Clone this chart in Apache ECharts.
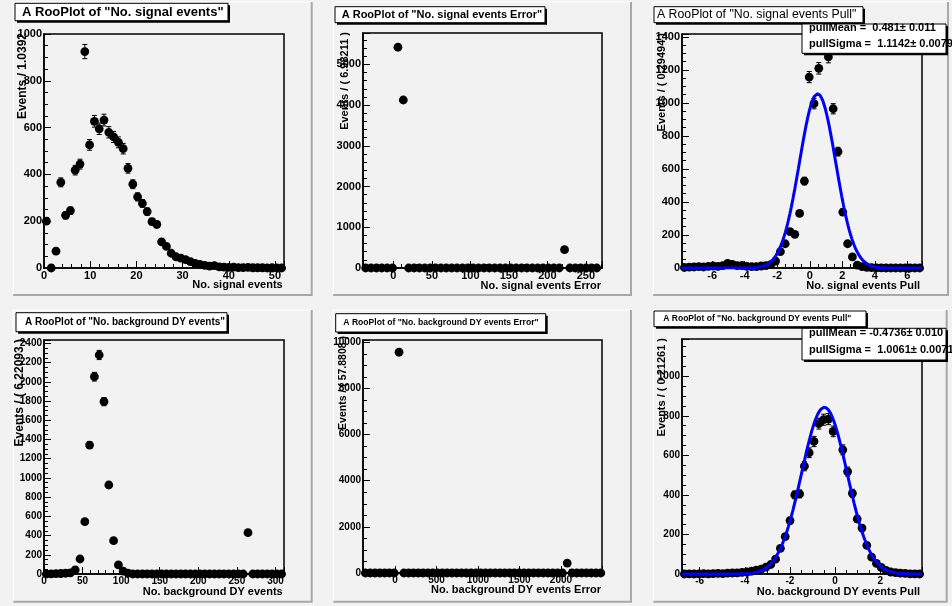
<!DOCTYPE html>
<html><head><meta charset="utf-8">
<script src="https://cdn.jsdelivr.net/npm/echarts@6/dist/echarts.min.js"></script>
<style>html,body{margin:0;padding:0;background:#f2f2f2}#c{width:952px;height:606px}</style>
</head><body><div id="c"></div>
<script>
// ================= DATA =================
// Panel 1: No. signal events (bin width 1.0392, starting at 0)
const sigLo = 0, sigBinW = 1.0392;
const sigCounts = [200,0,72,366,225,245,418,444,925,526,627,595,632,580,560,537,510,426,358,304,276,241,198,186,112,92,63,48,42,36,27,20,15,11,8,10,5,4,3,4,2,2,3,1,1,1,0,1,0,0];

// Panel 2: No. signal events Error
const sigErrLo = -39.5, sigErrBinW = 6.98211;
const sigErrCounts = [0,0,0,0,0,0,5420,4125,0,0, 0,0,0,0,0,0,0,0,0,0, 0,0,0,0,0,0,0,0,0,0, 0,0,0,0,0,0,0,449,0,0, 0,0,0,0];

// Panel 3: No. signal events Pull
const sigPullLo = -7.85, sigPullBinW = 0.29494;
const sigPullCounts = [3,5,6,8,6,10,12,10,14,28,22,14,15,10,8,8,12,14,20, 42,99,147,220,204,331,527,1157,996,1210,1340,1279,965,705,339,147,67,18, 8,4,2,1,1,0,0,0,0,0,0,0,0];
const sigPullFit = {mean: 0.481, meanErr: '0.011', sigma: 1.1142, sigmaErr: '0.0079', peak: 1056};

// Panel 4: No. background DY events
const bkgLo = 0, bkgBinW = 6.22093;
const bkgCounts = [0,2,3,5,8,12, 42,156,544,1342,2053,2279,1793,926,347,94,30,8, 0,0,0,0,0,0,0,0,0,0,0,0,0,0,0,0,0,0,0,0,0,0,0,0, 430, 0,0,0,0,0,0,0];

// Panel 5: No. background DY events Error
const bkgErrLo = -385, bkgErrBinW = 57.8808;
const bkgErrCounts = [0,0,0,0,0,0,0,9570,0,0, 0,0,0,0,0,0,0,0,0,0, 0,0,0,0,0,0,0,0,0,0, 0,0,0,0,0,0,0,0,0,0, 0,0,430,0,0,0,0,0,0,0];

// Panel 6: No. background DY events Pull
const bkgPullLo = -6.78, bkgPullBinW = 0.21261;
const bkgPullCounts = [0,1,0,1,2,1,2,3,2,4, 5,6,8,10,14, 20,25,35,48,75, 130,189,270,400,405, 545,613,670,760,780, 783,721,1120,628,518, 408,278,232,145,85, 54,33,18,10,7, 4,3,1,1,0];
const bkgPullFit = {mean: -0.4736, meanErr: '0.010', sigma: 1.0061, sigmaErr: '0.0071', peak: 843};

// Texts
const plotTitles = ['A RooPlot of "No. signal events"','A RooPlot of "No. signal events Error"','A RooPlot of "No. signal events Pull"',
  'A RooPlot of "No. background DY events"','A RooPlot of "No. background DY events Error"','A RooPlot of "No. background DY events Pull"'];
const xTitles = ['No. signal events','No. signal events Error','No. signal events Pull','No. background DY events','No. background DY events Error','No. background DY events Pull'];
const yTitles = ['Events / 1.0392','Events / ( 6.98211 )','Events / ( 0.29494 )','Events / ( 6.22093 )','Events / ( 57.8808 )','Events / ( 0.21261 )'];

// ================= LAYOUT =================
const FF = '"Liberation Sans", Arial, Helvetica, sans-serif';
const panels = [
  {grid:{left:44,top:34,width:240,height:234}, x:{min:0,max:51.96,interval:10,minor:5}, y:{min:0,max:1000,interval:200,minor:4}, counts:sigCounts, lo:sigLo, w:sigBinW, fs:11,
   frame:[13.3,2,298.4,293], tbox:[15,3.3,213,17.4], tpos:[22,12], tfont:'bold 13px', ytp:[23,33,12], xtp:[282.7,285]},
  {grid:{left:363,top:33,width:239,height:235}, x:{min:-39.5,max:271,split:6,minor:5}, y:{min:0,max:5770,interval:1000,minor:5}, counts:sigErrCounts, lo:sigErrLo, w:sigErrBinW, fs:11,
   frame:[333.3,2,297.7,293], tbox:[335,6.7,210,16], tpos:[341.7,15], tfont:'bold 11px', ytp:[345,32,11], xtp:[601,285.7]},
  {grid:{left:682,top:34,width:240,height:234}, x:{min:-7.85,max:6.897,split:7,minor:4}, y:{min:0,max:1418,interval:200,minor:4}, counts:sigPullCounts, lo:sigPullLo, w:sigPullBinW, fs:11, fit:sigPullFit,
   frame:[653.3,2,294.7,293], tbox:[654,6.7,209,16], tpos:[657,14.8], tfont:'12.3px', ytp:[661.7,33,11], xtp:[920,285.7],
   stats:[802,24,144,29.3, 28, 44]},
  {grid:{left:44,top:340,width:240,height:234}, x:{min:0,max:311.05,interval:50,minor:5}, y:{min:0,max:2435,interval:200,minor:4}, counts:bkgCounts, lo:bkgLo, w:bkgBinW, fs:10,
   frame:[13.3,310,298.4,291.7], tbox:[16,312.7,211,19], tpos:[25,322], tfont:'bold 10px', ytp:[20,339,12], xtp:[282.7,591.7]},
  {grid:{left:363,top:340,width:239,height:233}, x:{min:-385,max:2494,split:6,minor:5}, y:{min:0,max:10100,interval:2000,minor:4}, counts:bkgErrCounts, lo:bkgErrLo, w:bkgErrBinW, fs:10,
   frame:[333.3,310,297.7,291.7], tbox:[335.7,313.7,210,18.3], tpos:[343.3,322.8], tfont:'bold 8.6px', ytp:[343.3,336,10.5], xtp:[601,590]},
  {grid:{left:682,top:339,width:240,height:235}, x:{min:-6.78,max:3.85,split:5,minor:4}, y:{min:0,max:1188,interval:200,minor:4}, counts:bkgPullCounts, lo:bkgPullLo, w:bkgPullBinW, fs:10, fit:bkgPullFit,
   frame:[653.3,310,293.4,291.7], tbox:[654,311,212,15.7], tpos:[663.3,319], tfont:'bold 8.5px', ytp:[661.7,338,11], xtp:[920,591.7],
   stats:[802,328.3,144,31.7, 333.3, 350]}
];

const grids = [], xAxes = [], yAxes = [], series = [], graphics = [];

function axisCommon(fs){
  return {
    axisLine:{show:true,onZero:false,lineStyle:{color:'#000',width:1.5}},
    axisTick:{show:true,inside:true,length:7,lineStyle:{color:'#000',width:1}},
    minorTick:{show:true,length:4,lineStyle:{color:'#000',width:1}},
    splitLine:{show:false}, minorSplitLine:{show:false},
    axisLabel:{color:'#000',fontWeight:'bold',fontFamily:FF,fontSize:fs,margin:2,
      formatter:function(v){ return String(Math.round(v*1000)/1000); }}
  };
}

panels.forEach((p, i) => {
  grids.push(Object.assign({show:true,borderColor:'#000',borderWidth:1.5,backgroundColor:'transparent',containLabel:false}, p.grid));
  const xa = Object.assign({type:'value',gridIndex:i,min:p.x.min,max:p.x.max,position:'bottom'}, axisCommon(p.fs));
  if (p.x.interval) xa.interval = p.x.interval; else xa.splitNumber = p.x.split;
  xa.minorTick.splitNumber = p.x.minor;
  xa.axisLabel.showMinLabel = (p.x.min % (p.x.interval||1e9) === 0);
  xa.axisLabel.showMaxLabel = false;
  xAxes.push(xa);
  const ya = Object.assign({type:'value',gridIndex:i,min:p.y.min,max:p.y.max,interval:p.y.interval,position:'left'}, axisCommon(p.fs));
  ya.minorTick.splitNumber = p.y.minor;
  ya.axisLabel.showMaxLabel = (p.y.max % p.y.interval === 0);
  yAxes.push(ya);

  const data = p.counts.map((c, k) => [p.lo + p.w * (k + 0.5), c, Math.sqrt(c), p.w / 2]);
  series.push({
    type:'custom', xAxisIndex:i, yAxisIndex:i, clip:false, z:3,
    dimensions:['x','y','e','hw'], encode:{x:0,y:1},
    data,
    renderItem:function(params, api){
      const x = api.value(0), y = api.value(1), e = api.value(2), hw = api.value(3);
      const c = api.coord([x, y]);
      const l = api.coord([x - hw, y]), r = api.coord([x + hw, y]);
      const st = {stroke:'#000', lineWidth:1};
      const kids = [{type:'line', shape:{x1:l[0],y1:c[1],x2:r[0],y2:c[1]}, style:st}];
      if (e > 0) {
        const t = api.coord([x, y + e]), b = api.coord([x, y - e]);
        kids.push({type:'line', shape:{x1:c[0],y1:t[1],x2:c[0],y2:b[1]}, style:st});
        kids.push({type:'line', shape:{x1:c[0]-2.5,y1:t[1],x2:c[0]+2.5,y2:t[1]}, style:st});
        kids.push({type:'line', shape:{x1:c[0]-2.5,y1:b[1],x2:c[0]+2.5,y2:b[1]}, style:st});
      }
      kids.push({type:'circle', shape:{cx:c[0],cy:c[1],r:4.4}, style:{fill:'#000'}});
      return {type:'group', children:kids};
    }
  });

  if (p.fit) {
    const f = p.fit, pts = [];
    for (let k = 0; k <= 400; k++) {
      const x = p.x.min + (p.x.max - p.x.min) * k / 400;
      pts.push([x, f.peak * Math.exp(-0.5 * Math.pow((x - f.mean) / f.sigma, 2))]);
    }
    series.push({type:'line', xAxisIndex:i, yAxisIndex:i, data:pts, showSymbol:false, symbol:'none', z:4,
      lineStyle:{color:'#0000ff', width:3}, silent:true});
  }

  // pad frame (bevel)
  const [fx, fy, fw, fh] = p.frame;
  graphics.push({type:'polyline', z:-5, shape:{points:[[fx, fy+fh],[fx, fy],[fx+fw, fy]]}, style:{stroke:'#ffffff', lineWidth:1, fill:null}});
  graphics.push({type:'polyline', z:-5, shape:{points:[[fx+fw, fy],[fx+fw, fy+fh],[fx, fy+fh]]}, style:{stroke:'#a8a8a8', lineWidth:2, fill:null}});

  // title box
  const [bx, by, bw, bh] = p.tbox;
  graphics.push({type:'rect', z:50, shape:{x:bx+2, y:by+2, width:bw, height:bh}, style:{fill:'#000'}});
  graphics.push({type:'rect', z:51, shape:{x:bx, y:by, width:bw, height:bh}, style:{fill:'#fff', stroke:'#000', lineWidth:1}});
  graphics.push({type:'text', z:52, x:p.tpos[0], y:p.tpos[1], style:{text:plotTitles[i], font:p.tfont + ' ' + FF, fill:'#000', textAlign:'left', align:'left', textVerticalAlign:'middle', verticalAlign:'middle'}});

  // axis titles
  graphics.push({type:'text', z:40, x:p.xtp[0], y:p.xtp[1], style:{text:xTitles[i], font:'bold 11px ' + FF, fill:'#000', textAlign:'right', align:'right', textVerticalAlign:'middle', verticalAlign:'middle'}});
  graphics.push({type:'text', z:40, x:p.ytp[0], y:p.ytp[1], rotation:Math.PI/2, style:{text:yTitles[i], font:'bold ' + p.ytp[2] + 'px ' + FF, fill:'#000', textAlign:'right', align:'right', textVerticalAlign:'middle', verticalAlign:'middle'}});

  // stats box
  if (p.stats) {
    const [sx, sy, sw, sh, l1, l2] = p.stats;
    const f = p.fit;
    const meanTxt = (f.mean < 0 ? '' : ' ') + f.mean.toString();
    graphics.push({type:'rect', z:60, shape:{x:sx+2, y:sy+2, width:sw, height:sh}, style:{fill:'#000'}});
    graphics.push({type:'rect', z:61, shape:{x:sx, y:sy, width:sw, height:sh}, style:{fill:'#fff', stroke:'#000', lineWidth:1}});
    graphics.push({type:'text', z:62, x:sx+7, y:l1, style:{text:'pullMean = ' + meanTxt + '\u00b1 ' + f.meanErr, font:'bold 11px ' + FF, fill:'#000', textAlign:'left', align:'left', textVerticalAlign:'middle', verticalAlign:'middle'}});
    graphics.push({type:'text', z:62, x:sx+7, y:l2, style:{text:'pullSigma =  ' + f.sigma.toString() + '\u00b1 ' + f.sigmaErr, font:'bold 11px ' + FF, fill:'#000', textAlign:'left', align:'left', textVerticalAlign:'middle', verticalAlign:'middle'}});
  }
});

const chart = echarts.init(document.getElementById('c'), null, {renderer:'canvas', width:952, height:606});
chart.setOption({
  animation:false,
  backgroundColor:'#f2f2f2',
  grid:grids, xAxis:xAxes, yAxis:yAxes, series:series,
  graphic:{elements:graphics}
});
</script>
</body></html>
